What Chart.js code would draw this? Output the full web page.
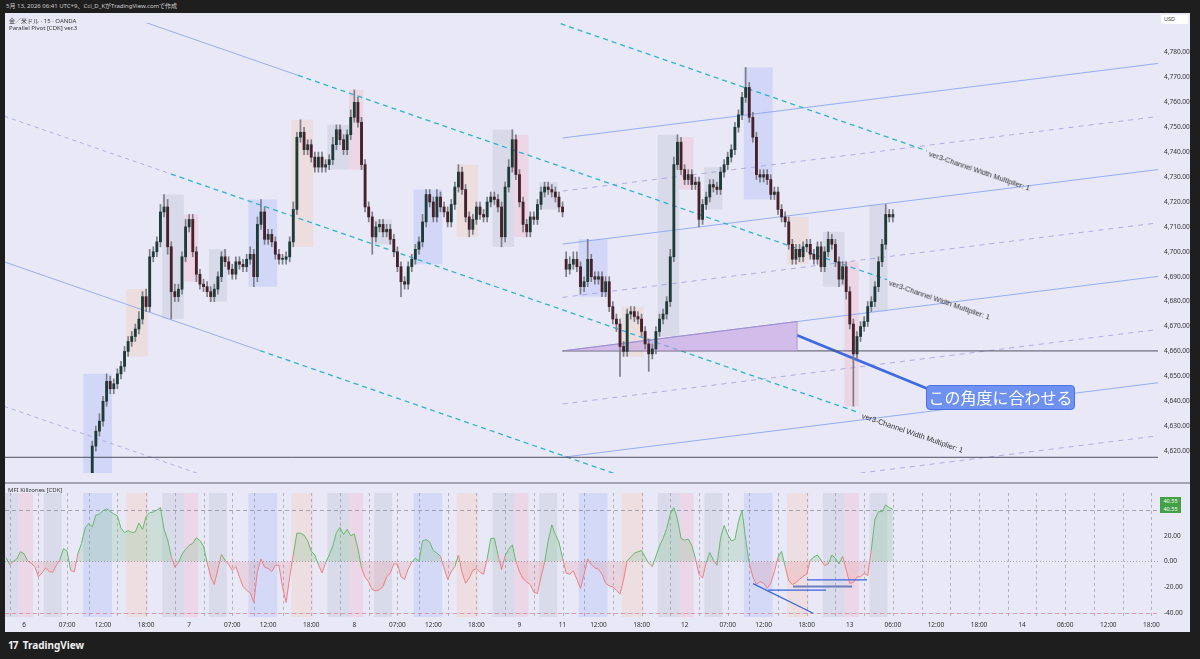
<!DOCTYPE html>
<html>
<head>
<meta charset="utf-8">
<script src="https://cdn.jsdelivr.net/npm/chart.js@4.4.1/dist/chart.umd.min.js"></script>
<style>
body{margin:0;background:#1e1e1e;width:1200px;height:659px;overflow:hidden;position:relative;font-family:"Noto Sans","Noto Sans CJK JP",sans-serif}
.abs{position:absolute}
#frame{left:5px;top:13px;width:1185px;height:619px;background:#e8e8f7}
#hdr{left:6px;top:1px;font-size:6px;color:#cfcfcf;white-space:nowrap}
.lbl{font-size:6px;color:#333;white-space:nowrap}
#sep{left:5px;top:482px;width:1185px;height:2px;background:#a4a4b2}
#usd{left:1161px;top:15px;width:27px;height:9px;background:#fff;font-size:5.5px;line-height:9px;color:#333;text-indent:3px}
.chan{font-family:"Liberation Sans",sans-serif;font-size:7.5px;color:#333;white-space:nowrap;transform-origin:0 50%;line-height:10px}
#callout{background:#6f92f2;border:1px solid #4d72e6;border-radius:4px;color:#fff;font-family:"Noto Sans CJK JP",sans-serif;font-size:16px;line-height:23px;width:147px;text-align:center}
.mfibox{left:1160px;width:21px;height:8px;background:#43a047;color:#fff;font-size:5.5px;line-height:8px;text-align:center}
#tv{left:8px;top:638px;color:#f0f0f0;font-size:10px;font-weight:bold;font-family:"Noto Sans",sans-serif}
</style>
</head>
<body>
<div id="frame" class="abs"></div>
<div id="hdr" class="abs">5月 13, 2026 06:41 UTC+9、Cci_D_KがTradingView.comで作成</div>
<div class="abs" style="left:5px;top:13px"><canvas id="main" width="1185" height="470"></canvas></div>
<div class="abs" style="left:5px;top:483px"><canvas id="mfi" width="1185" height="149"></canvas></div>
<div id="sep" class="abs"></div>
<div class="abs lbl" style="left:9px;top:16px">金／米ドル · 15 · OANDA</div>
<div class="abs lbl" style="left:9px;top:24px">Parallel Pivot [CDK] ver.3</div>
<div class="abs lbl" style="left:8px;top:486px">MFI Killzones [CDK]</div>
<div id="usd" class="abs">USD</div>
<div id="tv" class="abs"><span style="letter-spacing:-1px">17</span>&nbsp; TradingView</div>
<script>
// 15-min bar index: 0 = day 6 00:00, 92 bars per trading day
const xMin = -10.6, xMax = 631.7;
const xTickIdx = [0,24,44,68,92,116,136,160,184,208,228,252,276,300,320,344,368,392,412,436,460,484,508,532,556,580,604,628];
const xTickText = ['6','07:00','12:00','18:00','7','07:00','12:00','18:00','8','07:00','12:00','18:00','9','11','12:00','18:00','12','07:00','12:00','18:00','13','06:00','12:00','18:00','14','06:00','12:00','18:00'];
const priceTicks = [4620,4630,4640,4650,4660,4670,4680,4690,4700,4710,4720,4730,4740,4750,4760,4770,4780];
const mfiTicks = [20,0,-20,-40];

// 30-min candles starting at bar index 36
const candleStart = 36;
const closes = [
4608,4622,4628,4632,4640,4648,4645,4647,4651,4654,
4660,4664,4666,4669,4673,4682,4678,4698,4700,4704,
4716,4718,4702,4684,4682,4685,4698,4710,4713,4700,
4691,4687,4686,4684,4682,4685,4690,4698,4696,4693,
4691,4696,4695,4694,4697,4699,4690,4711,4716,4705,
4707,4704,4699,4697,4697,4698,4704,4717,4746,4748,
4741,4743,4738,4734,4738,4734,4735,4737,4743,4749,
4745,4741,4747,4754,4760,4752,4735,4718,4714,4706,
4710,4711,4708,4709,4705,4700,4694,4688,4687,4694,
4697,4701,4704,4712,4723,4720,4714,4722,4718,4716,
4712,4719,4726,4732,4725,4714,4709,4713,4718,4715,
4714,4720,4722,4721,4718,4706,4726,4734,4745,4731,
4720,4711,4708,4714,4713,4719,4724,4726,4725,4724,
4722,4718,4716,4693,4695,4697,4694,4686,4688,4697,
4690,4689,4690,4684,4688,4678,4673,4671,4662,4660,
4675,4676,4674,4673,4668,4663,4659,4661,4668,4673,
4675,4680,4698,4735,4744,4733,4729,4731,4727,4728,
4713,4719,4722,4727,4726,4725,4732,4735,4738,4741,
4750,4755,4762,4766,4754,4746,4731,4730,4731,4729,
4723,4724,4717,4714,4712,4703,4697,4701,4698,4702,
4703,4699,4697,4702,4694,4700,4705,4703,4696,4689,
4694,4684,4671,4659,4666,4670,4672,4678,4680,4686,
4696,4703,4715,4714,4715];
const upWick = [
3,2,2,3,2,3,2,2,2,2, 2,2,2,2,3,2,3,3,2,2, 3,5,3,2,3,2,2,3,2,2, 2,2,2,2,2,2,2,2,3,2,
2,2,2,2,2,3,2,3,5,2, 2,2,2,2,2,2,2,3,2,5, 2,2,2,2,2,2,2,2,3,2, 2,2,2,3,5,2,2,2,2,2,
2,2,2,2,2,2,2,2,2,2, 2,2,2,3,2,2,2,3,2,2, 2,2,2,3,2,2,2,2,2,2, 2,2,2,2,2,2,2,3,4,2,
2,2,2,2,2,2,2,2,2,2, 2,2,2,3,3,3,3,2,2,8, 2,2,2,2,2,2,2,2,2,2, 2,2,2,2,2,2,2,2,2,2,
2,2,3,3,3,2,2,2,2,2, 2,2,2,2,2,2,2,2,2,2, 2,2,2,8,2,2,2,2,2,2, 2,2,2,2,2,2,2,2,2,2,
2,2,2,2,2,2,3,2,2,2, 2,2,2,2,2,2,2,2,2,2, 2,2,4,2,2];
const dnWick = [
3,2,2,2,2,2,2,2,2,2, 2,2,2,2,2,2,2,2,2,2, 2,2,3,11,2,2,2,2,2,2, 3,2,2,2,2,2,2,2,2,2,
2,2,2,2,2,2,4,2,2,2, 2,2,2,2,2,2,2,2,2,2, 2,2,2,2,2,2,2,2,2,2, 2,2,2,2,2,2,2,2,2,7,
2,2,2,2,2,2,2,6,2,2, 2,2,2,2,2,2,2,2,2,2, 2,2,2,2,2,2,3,2,2,2, 2,2,2,2,2,4,2,2,2,2,
2,3,2,2,2,2,2,2,2,2, 2,2,2,3,2,2,2,3,2,2, 2,2,2,2,2,2,2,3,12,2, 2,2,2,2,2,2,7,2,2,2,
2,2,2,2,2,2,2,2,2,2, 3,2,2,2,2,2,2,2,2,2, 2,2,2,2,2,2,2,2,2,2, 2,2,2,2,2,2,2,2,2,2,
2,2,2,2,2,2,2,2,2,3, 2,3,2,21,2,2,2,2,2,2, 2,2,2,2,2];
const gapIdx = [0,133];
const gapOpen = [4600,4697];

// MFI every 2 bars starting at bar index -10
const mfiStart = -10;
const mfiVals = [
3,-2.5,0,2,7.6,6,0.5,-1.5,-4,-12,
-9,-5,-8,-8.5,-3,1.5,10,8,-7,-8,
6,14,26,29.5,27,36,37,39.5,41,39,
37,35.5,26,22.5,24,22.5,23,30,25,35,
38,38.5,40,42,25,17,4,-4.5,-1,5.5,
9.5,12.6,14,18.5,16.3,12,-1,-12,-18,-6,
5.5,1,-2.5,-7,-4,-12,-19.5,-22.5,-24.5,-32,
-8,2,-4.5,-5.5,-8,-3,-3,-20,-32,-12,
5,22,22,20.5,16,8,5,-2.5,-9,-1,
5,12,22.5,26.5,21,25,20,21.5,10,-5,
-12.5,-16,-22,-23,-22,-19.5,-12,-9,-2,-2,
-12,-14,-6,-0.5,2.5,0,16,17,15,8.5,
6.5,4,-5,-14,-8,-4,5,-8.5,-17,-13,
-7,-5.5,-8.5,-10,2,18,18,5.4,-6.5,4.5,
9.5,13,0,-8,-13.5,-16,-18,-24,-25,-12,
-0.7,16,28.5,21,15,2.5,-9,-10,-7.5,-14,
-21,-10,2,-2.5,-5,-6,-10,-17,-19,-20,
-22.5,-25.5,-14,0.5,3.5,6.5,7.5,8.5,3.5,-1.5,
-4,4,12,18,25.5,37,42,33,18,16.5,
17.5,12.5,2.5,-10,-13,-1,7,1,-3,18,
28,21,16,17,31,40,17,-1.5,-12,-18,
-15.6,-17,-21,-17,-8,3,7.9,-4,-15,-18,
-16.5,-14,-11.5,-10,1,3.5,5,1,-3.2,-2,
5,2.5,-2,4,-6.5,-17,-16.5,-12,-12,-9.4,
-11,9,33,38.8,38.8,44,42,40.55];
const mfiLast = 40.55;

// killzone sessions (bar index ranges)
const kzStart = [-15,-3, 11,33,57,77,89, 103,125,149,169,181, 195,217,241,261,273, 287,309,333,353,365, 379,401,425,445,457, 471];
const kzEnd   = [-3,5, 21,49,69,89,97, 113,141,161,181,189, 205,233,253,273,281, 297,325,345,365,373, 389,417,437,457,465, 481];
const kzKind  = ['g','p', 'g','b','o','g','p', 'g','b','o','g','p', 'g','b','o','g','p', 'g','b','o','g','p', 'g','b','o','g','p', 'g'];
const kzBox  = {g:'rgba(150,155,170,0.18)', b:'rgba(110,140,255,0.18)', o:'rgba(255,180,130,0.2)', p:'rgba(255,130,150,0.18)'};
const kzBand = {g:'rgba(150,155,170,0.16)', b:'rgba(110,140,255,0.17)', o:'rgba(255,180,130,0.18)', p:'rgba(255,130,150,0.16)'};
const gridIdx = [-8,8,24,36,52,68,84,100,116,128,144,160,176,192,208,220,236,252,268,284,300,312,328,344,360,376,392,404,420,436,452,468,484,500,516,532,548,564,580,596,612,628];

// descending parallel channel (price at bar 0, slope per bar)
const chanBase = [4866.3,4809.0,4751.7,4693.2,4635.2];
const chanSlope = -0.25;
const chanThinFrom = [null,40,-11,-11,-11];
const chanSplit = [280,152.6,81.9,131.5,200];
const chanEnd = [503,480.8,465.7,470,470];
const chanThinDash = [false,false,true,false,true];
const chanLabelAt = [503,480.8,465.7];

// ascending parallel lines (price at bar 300)
const ascBase = [4745.7,4724.4,4703.1,4681.7,4660.2,4638.9,4617.5,4596.2];
const ascDash = [false,true,false,true,false,true,false,true];
const ascFrom = 300, ascTo = 632, ascSlope = 0.0902;

const hLevel = [4660.2,4617.5];
const hFrom = [300,-11];
const hTo = [632,632];

const triX = [300,430.6];
const triY = [4660.2,4672.0];
const ptrX = [430.6,504.7];
const ptrY = [4666.5,4644.6];
const calloutIdx = 502.5, calloutPrice = 4646.5;

// drawings on MFI pane
const mLineX0 = [406.1,436.2,428.4,414.5];
const mLineY0 = [-17.3,-14.4,-19.5,-22.4];
const mLineX1 = [439.6,469.6,461.3,446.8];
const mLineY1 = [-40.4,-14.4,-19.5,-22.4];
const mLineW  = [1.2,1.2,2,1.2];
const mLineC  = ['#3a63e0','#3a63e0','#6a7fc0','#3a63e0'];

Chart.defaults.font.family = '"Noto Sans","Noto Sans CJK JP",sans-serif';
Chart.defaults.color = '#333';

const opens = closes.map((c, k) => {
  const g = gapIdx.indexOf(k);
  return g >= 0 ? gapOpen[g] : closes[k - 1];
});
const highs = closes.map((c, k) => Math.max(opens[k], c) + upWick[k]);
const lows = closes.map((c, k) => Math.min(opens[k], c) - dnWick[k]);
const cIdx = closes.map((c, k) => candleStart + 2 * k);

function seg(x0, y0, x1, y1, color, width, dash, order) {
  return {type:'line', data:[{x:x0,y:y0},{x:x1,y:y1}], borderColor:color, borderWidth:width,
    borderDash:dash || [], pointRadius:0, fill:false, order:order || 5, tension:0};
}

const mainSets = [];
mainSets.push({type:'bar', data:cIdx.map((x,k)=>({x, y:[lows[k], highs[k]]})), backgroundColor:'#7d7d88',
  barThickness:1, grouped:false, order:2});
mainSets.push({type:'bar', data:cIdx.map((x,k)=>({x, y:[opens[k], closes[k]]})),
  backgroundColor:closes.map((c,k)=> c >= opens[k] ? '#1e3c37' : '#47202a'),
  barThickness:2.2, grouped:false, minBarLength:1, order:1});

chanBase.forEach((b, i) => {
  const p = v => b + chanSlope * v;
  if (chanThinFrom[i] !== null) {
    mainSets.push(seg(chanThinFrom[i], p(chanThinFrom[i]), chanSplit[i], p(chanSplit[i]),
      chanThinDash[i] ? 'rgba(150,155,215,0.7)' : 'rgba(120,150,235,0.7)', 1, chanThinDash[i] ? [4,4] : [], 6));
  }
  mainSets.push(seg(chanSplit[i], p(chanSplit[i]), chanEnd[i], p(chanEnd[i]), '#2bb5d4', 1.3, [5,4], 6));
});
ascBase.forEach((b, i) => {
  mainSets.push(seg(ascFrom, b, ascTo, b + ascSlope * (ascTo - ascFrom),
    ascDash[i] ? 'rgba(160,150,230,0.75)' : 'rgba(120,155,240,0.75)', 1, ascDash[i] ? [5,5] : [], 7));
});
hLevel.forEach((h, i) => mainSets.push(seg(hFrom[i], h, hTo[i], h, '#505060', 1, [], 4)));
mainSets.push({type:'line', data:[{x:triX[0],y:triY[0]},{x:triX[1],y:triY[1]}], borderColor:'#a08ccc', borderWidth:1,
  pointRadius:0, fill:{target:{value:triY[0]}}, backgroundColor:'rgba(195,160,225,0.6)', order:3});
mainSets.push(seg(triX[1], triY[0], triX[1], triY[1], '#a08ccc', 1, [], 3));
mainSets.push(seg(ptrX[0], ptrY[0], ptrX[1], ptrY[1], '#3d6ae2', 2.6, [], 0));

const kzPlugin = {
  id:'kzBoxes',
  beforeDatasetsDraw(chart) {
    const {ctx, chartArea:a, scales:{x, y}} = chart;
    ctx.save();
    ctx.beginPath(); ctx.rect(a.left, a.top, a.width, a.height); ctx.clip();
    kzStart.forEach((s, i) => {
      let hi = -Infinity, lo = Infinity;
      cIdx.forEach((ix, k) => {
        if (ix >= s && ix <= kzEnd[i]) { hi = Math.max(hi, highs[k]); lo = Math.min(lo, lows[k]); }
      });
      if (hi === -Infinity) return;
      const x0 = x.getPixelForValue(s), x1 = x.getPixelForValue(kzEnd[i]);
      const y0 = y.getPixelForValue(hi), y1 = y.getPixelForValue(lo);
      ctx.fillStyle = kzBox[kzKind[i]];
      ctx.fillRect(x0, y0, x1 - x0, y1 - y0);
    });
    ctx.restore();
  }
};

const fixW = s => { s.width = 32; };
const mainChart = new Chart(document.getElementById('main'), {
  type:'bar',
  data:{datasets:mainSets},
  options:{
    responsive:false, animation:false, events:[],
    layout:{padding:0, autoPadding:false},
    plugins:{legend:{display:false}, tooltip:{enabled:false}},
    scales:{
      x:{type:'linear', display:false, min:xMin, max:xMax, offset:false},
      y:{position:'right', min:4611.15, max:4791.9, afterFit:fixW,
        afterBuildTicks:s => { s.ticks = priceTicks.map(v => ({value:v})); },
        grid:{display:false, drawTicks:false}, border:{display:false},
        ticks:{padding:6, font:{size:6.5}, color:'#333',
          callback:v => v.toLocaleString('en-US', {minimumFractionDigits:3, maximumFractionDigits:3})}}
    }
  },
  plugins:[kzPlugin]
});

// MFI pane
const mfiSets = [{
  type:'line', data:mfiVals.map((v, m) => ({x:mfiStart + 2 * m, y:v})), borderWidth:1, pointRadius:0, tension:0,
  fill:{target:{value:0}, above:'rgba(102,187,106,0.2)', below:'rgba(239,110,110,0.16)'},
  segment:{borderColor:c => (c.p0.parsed.y + c.p1.parsed.y) >= 0 ? '#66b96a' : '#ef8080'},
  borderColor:'#66b96a', order:5
}];
mLineX0.forEach((x0, i) => mfiSets.push(seg(x0, mLineY0[i], mLineX1[i], mLineY1[i], mLineC[i], mLineW[i], [], 1)));

const mfiBg = {
  id:'mfiBg',
  beforeDatasetsDraw(chart) {
    const {ctx, chartArea:a, scales:{x, y}} = chart;
    ctx.save();
    ctx.beginPath(); ctx.rect(a.left, a.top, a.width, a.height); ctx.clip();
    kzStart.forEach((s, i) => {
      const x0 = x.getPixelForValue(s), x1 = x.getPixelForValue(kzEnd[i]);
      ctx.fillStyle = kzBand[kzKind[i]];
      ctx.fillRect(x0, a.top, x1 - x0, a.height);
    });
    ctx.lineWidth = 1;
    ctx.setLineDash([3,3]);
    ctx.strokeStyle = 'rgba(110,110,130,0.45)';
    gridIdx.forEach(g => {
      const px = Math.round(x.getPixelForValue(g)) + 0.5;
      ctx.beginPath(); ctx.moveTo(px, a.top); ctx.lineTo(px, a.bottom); ctx.stroke();
    });
    const hl = (v, col, dash) => {
      const py = Math.round(y.getPixelForValue(v)) + 0.5;
      ctx.setLineDash(dash); ctx.strokeStyle = col;
      ctx.beginPath(); ctx.moveTo(a.left, py); ctx.lineTo(a.right, py); ctx.stroke();
    };
    hl(40, 'rgba(120,120,135,0.6)', [4,3]);
    hl(0, 'rgba(120,120,135,0.6)', [1,2]);
    hl(-40, 'rgba(230,120,140,0.7)', [4,3]);
    ctx.restore();
  }
};

const mfiChart = new Chart(document.getElementById('mfi'), {
  type:'line',
  data:{datasets:mfiSets},
  options:{
    responsive:false, animation:false, events:[],
    layout:{padding:0, autoPadding:false},
    plugins:{legend:{display:false}, tooltip:{enabled:false}},
    scales:{
      x:{type:'linear', min:xMin, max:xMax, offset:false,
        afterBuildTicks:s => { s.ticks = xTickIdx.map(v => ({value:v})); },
        afterFit:s => { s.height = 15; },
        grid:{display:false, drawTicks:false}, border:{display:false},
        ticks:{autoSkip:false, maxRotation:0, padding:4, font:{size:6.5}, color:'#333',
          callback:(v, i) => xTickText[i]}},
      y:{position:'right', min:-43.3, max:53.4, afterFit:fixW,
        afterBuildTicks:s => { s.ticks = mfiTicks.map(v => ({value:v})); },
        grid:{display:false, drawTicks:false}, border:{display:false},
        ticks:{padding:6, font:{size:6.5}, color:'#333', callback:v => v.toFixed(2)}}
    }
  },
  plugins:[mfiBg]
});

// text overlays placed from the chart scales
function addDiv(cls, id, text, left, top, extra) {
  const d = document.createElement('div');
  d.className = 'abs ' + cls;
  if (id) d.id = id;
  d.textContent = text;
  d.style.left = left + 'px';
  d.style.top = top + 'px';
  if (extra) Object.assign(d.style, extra);
  document.body.appendChild(d);
  return d;
}
const mx = mainChart.scales.x, my = mainChart.scales.y;
chanLabelAt.forEach((ix, i) => {
  const p = v => chanBase[i] + chanSlope * v;
  const x0 = mx.getPixelForValue(ix), y0 = my.getPixelForValue(p(ix));
  const x1 = mx.getPixelForValue(ix + 50), y1 = my.getPixelForValue(p(ix + 50));
  const ang = Math.atan2(y1 - y0, x1 - x0);
  addDiv('chan', null, 'ver3-Channel Width Multiplier: 1', 5 + x0 + 2, 13 + y0 - 5 + 3,
    {transform:'rotate(' + ang + 'rad)'});
});
addDiv('', 'callout', 'この角度に合わせる', 5 + mx.getPixelForValue(calloutIdx), 13 + my.getPixelForValue(calloutPrice));
const fy = 483 + mfiChart.scales.y.getPixelForValue(mfiLast);
addDiv('mfibox', null, mfiLast.toFixed(2), 1160, fy - 12);
addDiv('mfibox', null, mfiLast.toFixed(2), 1160, fy - 4);
</script>
</body>
</html>
